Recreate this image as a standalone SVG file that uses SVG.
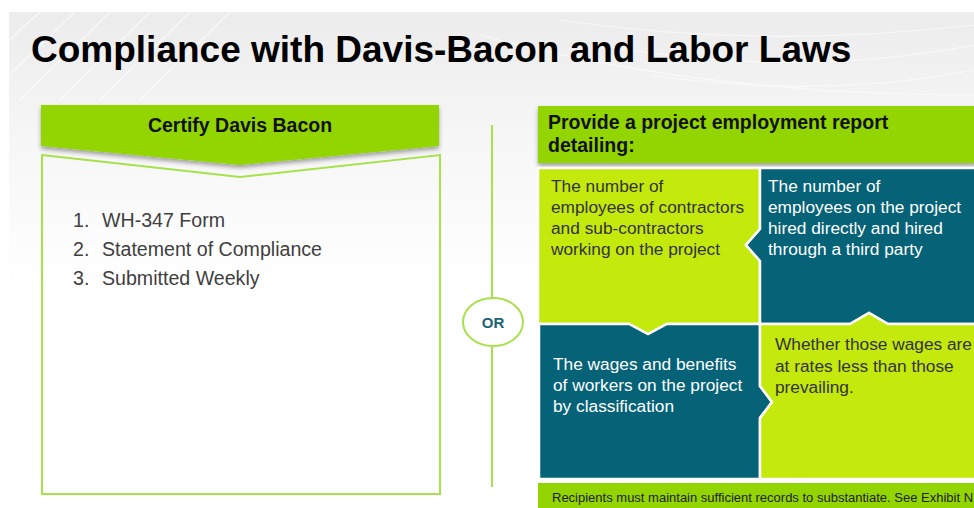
<svg xmlns="http://www.w3.org/2000/svg" width="974" height="508" viewBox="0 0 974 508">
  <defs>
    <linearGradient id="bg" x1="0" y1="0" x2="0" y2="1">
      <stop offset="0" stop-color="#ececec"/>
      <stop offset="0.25" stop-color="#f6f6f6"/>
      <stop offset="0.55" stop-color="#ffffff"/>
      <stop offset="1" stop-color="#ffffff"/>
    </linearGradient>
    <filter id="shadow" x="-5%" y="-20%" width="110%" height="150%">
      <feDropShadow dx="0" dy="3" stdDeviation="2" flood-color="#000" flood-opacity="0.35"/>
    </filter>
    <style>
      .t { font-family: "Liberation Sans", Arial, sans-serif; }
      .hdr { font-family: "Liberation Sans", Arial, sans-serif; font-weight: bold; font-size: 19.5px; fill: #111; }
      .li { font-family: "Liberation Sans", Arial, sans-serif; font-size: 19.6px; fill: #404040; }
      .q { font-family: "Liberation Sans", Arial, sans-serif; font-size: 17.3px; }
      .dark { fill: #333333; }
      .light { fill: #ffffff; }
      .lime { fill: #c4e90c; stroke: #ffffff; stroke-width: 2.5; stroke-linejoin: miter; }
      .teal { fill: #056277; stroke: #ffffff; stroke-width: 2.5; stroke-linejoin: miter; }
      .green { fill: #93d500; }
      .outline { fill: none; stroke: #a6e24a; stroke-width: 2; }
      .swoosh { fill: none; stroke: #ffffff; stroke-opacity: 0.6; stroke-width: 1.2; }
    </style>
  </defs>

  <!-- background -->
  <rect x="0" y="0" width="974" height="508" fill="#ffffff"/>
  <rect x="9" y="12" width="965" height="496" fill="url(#bg)"/>
  <g id="bg-swooshes">
    <path class="swoosh" d="M9,40 L40,12 M9,75 L75,12 M20,100 L110,12 M60,100 L150,12 M100,100 L190,12 M140,100 L230,12"/>
    <path class="swoosh" d="M560,20 Q760,50 974,25 M600,45 Q790,80 974,45 M650,75 Q820,100 974,70 M480,35 Q700,95 974,95"/>
  </g>

  <g id="title">
    <text class="t" x="31" y="62" font-size="37" font-weight="bold" fill="#000">Compliance with Davis-Bacon and Labor Laws</text>
  </g>

  <!-- Left panel -->
  <g id="certify-box">
    <path d="M42,155 L240,177 L440,155 L440,494 L42,494 Z" fill="#ffffff" class="outline"/>
    <text class="li" x="73" y="227">1.</text>
    <text class="li" x="102" y="227">WH-347 Form</text>
    <text class="li" x="73" y="256">2.</text>
    <text class="li" x="102" y="256">Statement of Compliance</text>
    <text class="li" x="73" y="285">3.</text>
    <text class="li" x="102" y="285">Submitted Weekly</text>
  </g>
  <g id="certify-header">
    <path class="green" filter="url(#shadow)" d="M41,105 L439,105 L439,146 L240,165 L41,146 Z"/>
    <text class="hdr" x="240" y="132" text-anchor="middle">Certify Davis Bacon</text>
  </g>

  <!-- divider -->
  <g id="connectors">
    <line x1="492" y1="125" x2="492" y2="298" stroke="#a6e24a" stroke-width="2"/>
    <line x1="492" y1="347" x2="492" y2="487" stroke="#a6e24a" stroke-width="2"/>
  </g>
  <g id="or-node">
    <ellipse cx="493" cy="322" rx="30" ry="24" fill="#ffffff" stroke="#a6e24a" stroke-width="2"/>
    <text class="t" x="493" y="328" font-size="15" font-weight="bold" fill="#1c6275" text-anchor="middle">OR</text>
  </g>

  <!-- Right panel -->
  <g id="report-header">
    <rect class="green" x="538" y="106" width="440" height="57" filter="url(#shadow)"/>
    <text class="hdr" x="548" y="129">Provide a project employment report</text>
    <text class="hdr" x="548" y="152">detailing:</text>
  </g>

  <g id="q-contractors">
    <path class="lime" d="M538,168 H760 V229 L746,245 L760,261 V324 H667 L648,334 L629,324 H538 Z"/>
    <text class="q dark" x="551" y="192">The number of</text>
    <text class="q dark" x="551" y="213">employees of contractors</text>
    <text class="q dark" x="551" y="234">and sub-contractors</text>
    <text class="q dark" x="551" y="255">working on the project</text>
  </g>
  <g id="q-hired">
    <path class="teal" d="M760,168 H978 V324 H888 L869,313 L850,324 H760 V261 L746,245 L760,229 Z"/>
    <text class="q light" x="768" y="192">The number of</text>
    <text class="q light" x="768" y="213">employees on the project</text>
    <text class="q light" x="768" y="234">hired directly and hired</text>
    <text class="q light" x="768" y="255">through a third party</text>
  </g>
  <g id="q-wages">
    <path class="teal" d="M539,324 H629 L648,334 L667,324 H760 V386 L772,402 L760,418 V479 H539 Z"/>
    <text class="q light" x="553" y="370">The wages and benefits</text>
    <text class="q light" x="553" y="391">of workers on the project</text>
    <text class="q light" x="553" y="412">by classification</text>
  </g>
  <g id="q-prevailing">
    <path class="lime" d="M760,324 H850 L869,313 L888,324 H978 V479 H760 V418 L772,402 L760,386 Z"/>
    <text class="q dark" x="775" y="350">Whether those wages are</text>
    <text class="q dark" x="775" y="372">at rates less than those</text>
    <text class="q dark" x="775" y="393">prevailing.</text>
  </g>

  <g id="records-note">
    <rect class="green" x="538" y="483" width="440" height="27"/>
    <text class="t" x="552" y="502" font-size="13" fill="#222">Recipients must maintain sufficient records to substantiate. See Exhibit N</text>
  </g>
</svg>
